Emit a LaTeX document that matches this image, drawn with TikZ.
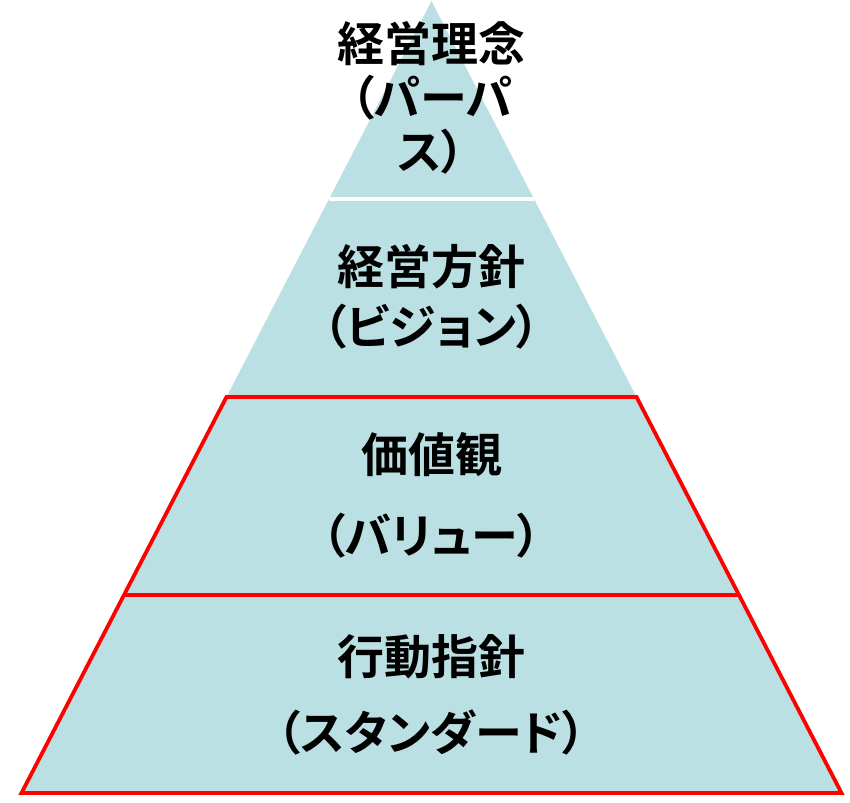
\documentclass[tikz,border=0pt]{standalone}
\usepackage{fontspec}
\usepackage{xcolor}
\usepackage{tikz}
\usetikzlibrary{calc}

\newfontfamily\jpfont[RawFeature=+palt]{Noto Sans CJK JP Bold}
\definecolor{tierfill}{RGB}{187,224,227}
\definecolor{tierred}{RGB}{255,0,0}

\begin{document}
\begin{tikzpicture}[x=1pt, y=-1pt,
    tier/.style={fill=tierfill},
    whiteedge/.style={draw=white, line width=4pt},
    rededge/.style={draw=tierred, line width=3.8pt, line join=miter},
    tiertext/.style={align=center, inner sep=0pt,
                     font=\jpfont\fontsize{47}{#1}\selectfont}]

\useasboundingbox (0,0) rectangle (850,802);

% ── Pyramid corners and tier edges ─────────────────────────────────
\coordinate (apex) at (431.5,1);
\coordinate (bl) at (21.5,793);
\coordinate (br) at (841.5,793);
\coordinate (l1) at ($(apex)!.25!(bl)$);
\coordinate (r1) at ($(apex)!.25!(br)$);
\coordinate (l2) at ($(apex)!.5!(bl)$);
\coordinate (r2) at ($(apex)!.5!(br)$);
\coordinate (l3) at ($(apex)!.75!(bl)$);
\coordinate (r3) at ($(apex)!.75!(br)$);

% ── Fill of the four tiers ─────────────────────────────────────────
\fill[tier] (apex) -- (br) -- (bl) -- cycle;

% top two tiers: white gap between them
\draw[whiteedge] (l1) -- (r1);

% bottom two tiers: red outline
\draw[rededge] (l2) -- (r2) -- (br) -- (bl) -- cycle;
\draw[rededge] (l3) -- (r3);

% ── Tier labels ────────────────────────────────────────────────────
\node[tiertext=54] (purpose) at (431.5,98) {経営理念\\（パーパ\\ス）};
\node[tiertext=60] (vision) at (431.5,297) {経営方針\\（ビジョン）};
\node[tiertext=81] (value) at (431.5,495) {価値観\\（バリュー）};
\node[tiertext=76] (standard) at (431.5,695) {行動指針\\（スタンダード）};

\end{tikzpicture}
\end{document}
